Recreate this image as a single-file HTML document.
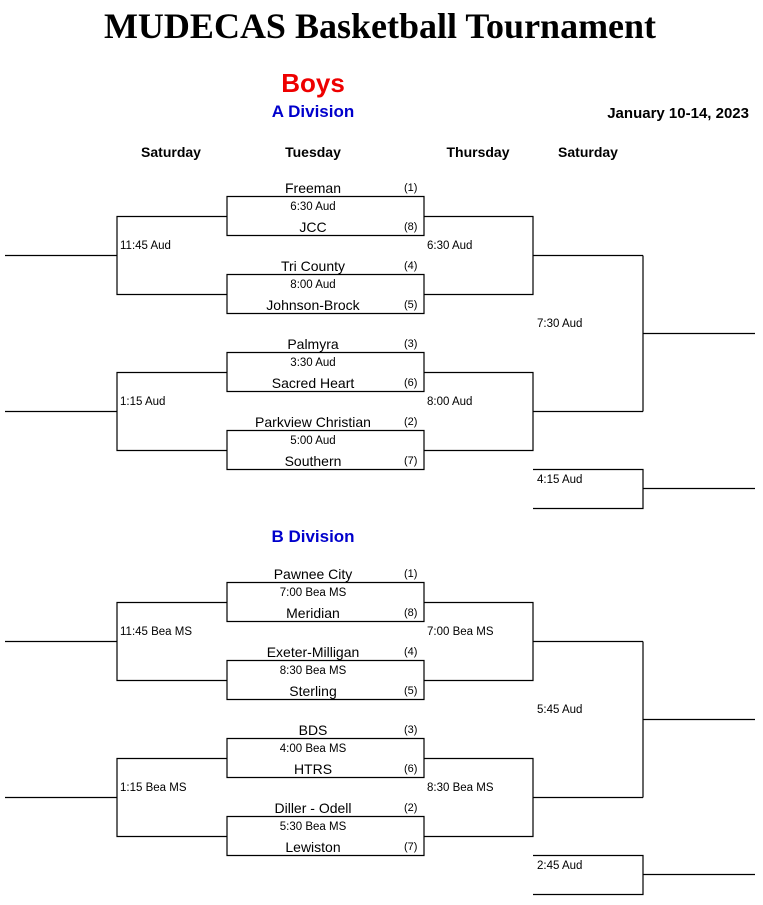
<!DOCTYPE html>
<html><head><meta charset="utf-8"><style>
body{margin:0;width:763px;height:905px;background:#fff;position:relative;overflow:hidden;font-family:"Liberation Sans",Arial,sans-serif;}
.t{position:absolute;white-space:nowrap;line-height:1;}
.c{transform:translateX(-50%);}
.team{font-size:14px;}
.tm{font-size:11.5px;}
.sd{font-size:11px;}
.h{font-size:14px;font-weight:bold;}
svg{position:absolute;left:0;top:0;}
</style></head><body>
<svg width="763" height="905" stroke="#000" stroke-width="1.2" fill="none">
<g id="A">
<path d="M227 196.5H424V235.5H227Z"/>
<path d="M227 274.5H424V313.5H227Z"/>
<path d="M227 352.5H424V391.5H227Z"/>
<path d="M227 430.5H424V469.5H227Z"/>
<path d="M227 216.5H117V294.5H227M5 255.5H117"/>
<path d="M227 372.5H117V450.5H227M5 411.5H117"/>
<path d="M424 216.5H533V294.5H424M533 255.5H643"/>
<path d="M424 372.5H533V450.5H424M533 411.5H643"/>
<path d="M643 255.5V411.5M643 333.5H755"/>
<path d="M533 469.5H643V508.5H533M643 488.5H755"/>
</g>
<use href="#A" y="386"/>
</svg>
<div class="t c" style="left:380px;top:8px;font-family:'Liberation Serif',serif;font-weight:bold;font-size:36px;">MUDECAS Basketball Tournament</div>
<div class="t c" style="left:313px;top:70px;color:#e00;font-weight:bold;font-size:26px;">Boys</div>
<div class="t c" style="left:313px;top:103px;color:#00c;font-weight:bold;font-size:17px;">A Division</div>
<div class="t" style="right:14px;top:106px;font-weight:bold;font-size:15px;">January 10-14, 2023</div>
<div class="t c h" style="left:171px;top:145px;">Saturday</div>
<div class="t c h" style="left:313px;top:145px;">Tuesday</div>
<div class="t c h" style="left:478px;top:145px;">Thursday</div>
<div class="t c h" style="left:588px;top:145px;">Saturday</div>
<div class="t c" style="left:313px;top:528px;color:#00c;font-weight:bold;font-size:17px;">B Division</div>

<!-- A division -->
<div class="t c team" style="left:313px;top:181px;">Freeman</div><div class="t sd" style="left:404px;top:183px;">(1)</div>
<div class="t c tm" style="left:313px;top:202px;">6:30 Aud</div>
<div class="t c team" style="left:313px;top:220px;">JCC</div><div class="t sd" style="left:404px;top:222px;">(8)</div>
<div class="t c team" style="left:313px;top:259px;">Tri County</div><div class="t sd" style="left:404px;top:261px;">(4)</div>
<div class="t c tm" style="left:313px;top:280px;">8:00 Aud</div>
<div class="t c team" style="left:313px;top:298px;">Johnson-Brock</div><div class="t sd" style="left:404px;top:300px;">(5)</div>
<div class="t c team" style="left:313px;top:337px;">Palmyra</div><div class="t sd" style="left:404px;top:339px;">(3)</div>
<div class="t c tm" style="left:313px;top:358px;">3:30 Aud</div>
<div class="t c team" style="left:313px;top:376px;">Sacred Heart</div><div class="t sd" style="left:404px;top:378px;">(6)</div>
<div class="t c team" style="left:313px;top:415px;">Parkview Christian</div><div class="t sd" style="left:404px;top:417px;">(2)</div>
<div class="t c tm" style="left:313px;top:436px;">5:00 Aud</div>
<div class="t c team" style="left:313px;top:454px;">Southern</div><div class="t sd" style="left:404px;top:456px;">(7)</div>
<div class="t tm" style="left:120px;top:241px;">11:45 Aud</div>
<div class="t tm" style="left:120px;top:397px;">1:15 Aud</div>
<div class="t tm" style="left:427px;top:241px;">6:30 Aud</div>
<div class="t tm" style="left:427px;top:397px;">8:00 Aud</div>
<div class="t tm" style="left:537px;top:319px;">7:30 Aud</div>
<div class="t tm" style="left:537px;top:475px;">4:15 Aud</div>

<!-- B division -->
<div class="t c team" style="left:313px;top:567px;">Pawnee City</div><div class="t sd" style="left:404px;top:569px;">(1)</div>
<div class="t c tm" style="left:313px;top:588px;">7:00 Bea MS</div>
<div class="t c team" style="left:313px;top:606px;">Meridian</div><div class="t sd" style="left:404px;top:608px;">(8)</div>
<div class="t c team" style="left:313px;top:645px;">Exeter-Milligan</div><div class="t sd" style="left:404px;top:647px;">(4)</div>
<div class="t c tm" style="left:313px;top:666px;">8:30 Bea MS</div>
<div class="t c team" style="left:313px;top:684px;">Sterling</div><div class="t sd" style="left:404px;top:686px;">(5)</div>
<div class="t c team" style="left:313px;top:723px;">BDS</div><div class="t sd" style="left:404px;top:725px;">(3)</div>
<div class="t c tm" style="left:313px;top:744px;">4:00 Bea MS</div>
<div class="t c team" style="left:313px;top:762px;">HTRS</div><div class="t sd" style="left:404px;top:764px;">(6)</div>
<div class="t c team" style="left:313px;top:801px;">Diller - Odell</div><div class="t sd" style="left:404px;top:803px;">(2)</div>
<div class="t c tm" style="left:313px;top:822px;">5:30 Bea MS</div>
<div class="t c team" style="left:313px;top:840px;">Lewiston</div><div class="t sd" style="left:404px;top:842px;">(7)</div>
<div class="t tm" style="left:120px;top:627px;">11:45 Bea MS</div>
<div class="t tm" style="left:120px;top:783px;">1:15 Bea MS</div>
<div class="t tm" style="left:427px;top:627px;">7:00 Bea MS</div>
<div class="t tm" style="left:427px;top:783px;">8:30 Bea MS</div>
<div class="t tm" style="left:537px;top:705px;">5:45 Aud</div>
<div class="t tm" style="left:537px;top:861px;">2:45 Aud</div>
</body></html>
